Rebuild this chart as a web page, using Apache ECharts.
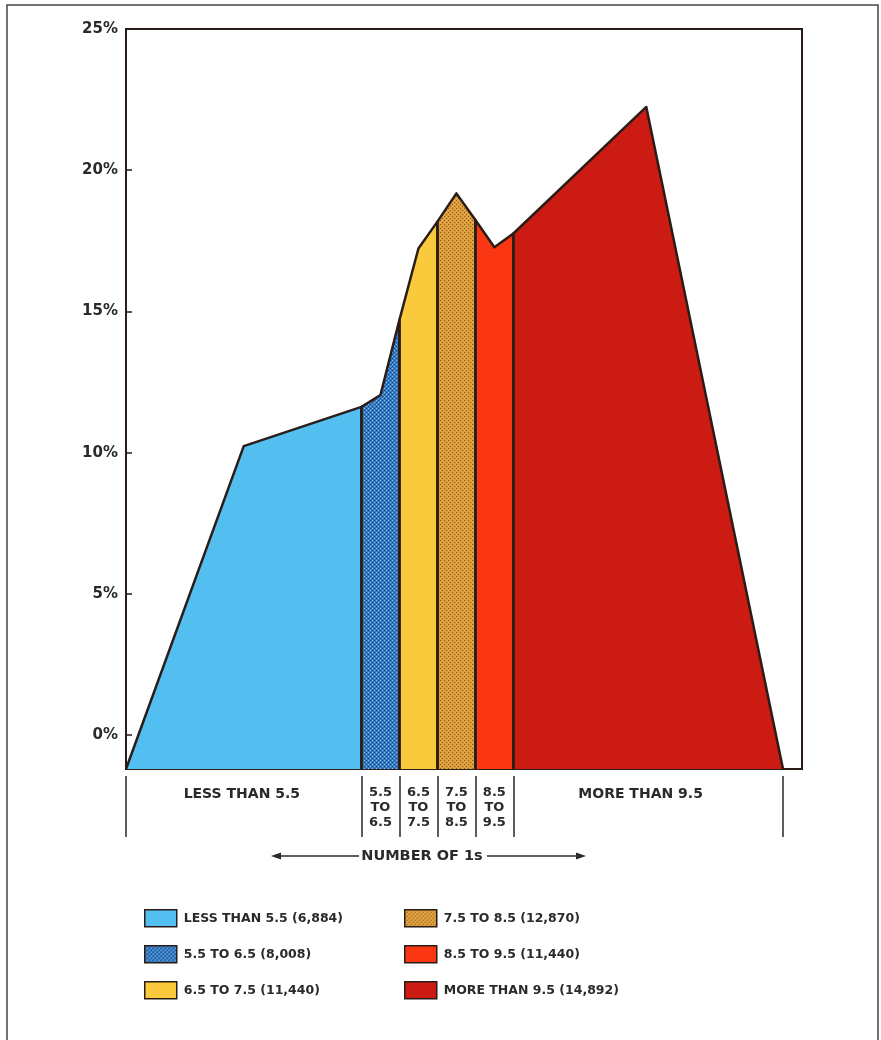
<!DOCTYPE html>
<html>
<head>
<meta charset="utf-8">
<script src="https://cdn.jsdelivr.net/npm/echarts@6/dist/echarts.min.js"></script>
<style>
html,body{margin:0;padding:0;background:#fff;}
#chart{width:881px;height:1040px;}
</style>
</head>
<body>
<div id="chart"></div>
<script>
// ---- data (percent of cases vs. number of 1s) ----
const yMin = -1.2;
const yMax = 25;
const xMin = -0.7;
const xMax = 17.1;
const yTicks = [0, 5, 10, 15, 20, 25];
const bandEdges = [-0.7, 5.5, 6.5, 7.5, 8.5, 9.5, 16.6];
const bandLabelPos = [2.35, 6, 7, 8, 9, 12.85];
const bandLabels = ['LESS THAN 5.5', '5.5\nTO\n6.5', '6.5\nTO\n7.5', '7.5\nTO\n8.5', '8.5\nTO\n9.5', 'MORE THAN 9.5'];
const seriesNames = ['LESS THAN 5.5 (6,884)', '5.5 TO 6.5 (8,008)', '6.5 TO 7.5 (11,440)', '7.5 TO 8.5 (12,870)', '8.5 TO 9.5 (11,440)', 'MORE THAN 9.5 (14,892)'];
const lessThan55 = [[-0.7, -1.2], [2.4, 10.23], [5.5, 11.62]];
const from55to65 = [[5.5, 11.62], [6, 12.04], [6.5, 14.7]];
const from65to75 = [[6.5, 14.7], [7, 17.23], [7.5, 18.18]];
const from75to85 = [[7.5, 18.18], [8, 19.18], [8.5, 18.24]];
const from85to95 = [[8.5, 18.24], [9, 17.27], [9.5, 17.76]];
const moreThan95 = [[9.5, 17.76], [13, 22.24], [16.6, -1.2]];
const bandData = [lessThan55, from55to65, from65to75, from75to85, from85to95, moreThan95];

// ---- styles ----
function dotPattern(base, dotA, dotB) {
  const c = document.createElement('canvas');
  c.width = 4; c.height = 4;
  const g = c.getContext('2d');
  g.fillStyle = base; g.fillRect(0, 0, 4, 4);
  g.fillStyle = dotA; g.fillRect(0, 0, 1, 1); g.fillRect(2, 2, 1, 1);
  g.fillStyle = dotB; g.fillRect(2, 0, 1, 1); g.fillRect(0, 2, 1, 1);
  return { image: c, repeat: 'repeat' };
}
const fills = [
  '#52bff0',
  dotPattern('#3479c0', '#86c0ee', '#1c4a88'),
  '#fbc93c',
  dotPattern('#dc9c38', '#8a5520', '#e9b55a'),
  '#fb3613',
  '#cc1b12'
];
const ink = '#2a1c16';
const txt = '#2a2a2a';
const font = 'DejaVu Sans';

const series = bandData.map((pts, i) => {
  const data = [];
  const first = pts[0], last = pts[pts.length - 1];
  if (first[1] !== yMin) data.push([first[0], yMin]);
  pts.forEach(p => data.push(p));
  if (last[1] !== yMin) data.push([last[0], yMin]);
  return {
    name: seriesNames[i],
    type: 'line',
    xAxisIndex: 0,
    yAxisIndex: 0,
    data: data,
    showSymbol: false,
    symbol: 'none',
    silent: true,
    lineStyle: { color: ink, width: 2.5, join: 'round' },
    itemStyle: { color: ink },
    areaStyle: { color: fills[i], opacity: 1, origin: 'start' },
    z: 2
  };
});

function legendItems(idx) {
  return idx.map(i => ({ name: seriesNames[i], itemStyle: { color: fills[i], borderColor: ink, borderWidth: 1.5 } }));
}
const legendBase = {
  orient: 'vertical',
  top: 909,
  padding: 0,
  icon: 'rect',
  itemWidth: 32,
  itemHeight: 17,
  itemGap: 17.5,
  selectedMode: false,
  textStyle: { fontFamily: font, fontWeight: 'bold', fontSize: 12.5, color: txt, padding: [0, 0, 0, 2], lineHeight: 17 }
};

const chart = echarts.init(document.getElementById('chart'), null, { renderer: 'canvas' });
chart.setOption({
  backgroundColor: '#ffffff',
  animation: false,
  grid: { left: 126, right: 79, top: 29, bottom: 271, show: true, borderColor: ink, borderWidth: 2, backgroundColor: 'transparent' },
  xAxis: [
    {
      type: 'value', min: xMin, max: xMax, position: 'bottom',
      axisLine: { show: true, onZero: false, lineStyle: { color: ink, width: 2 } },
      axisTick: { show: false }, axisLabel: { show: false }, splitLine: { show: false }
    },
    {
      type: 'value', min: xMin, max: xMax, position: 'bottom', offset: 7,
      axisLine: { show: false, onZero: false },
      splitLine: { show: false },
      axisTick: { show: true, customValues: bandEdges, length: 61, lineStyle: { color: txt, width: 1.5 } },
      axisLabel: {
        show: true, customValues: bandLabelPos, margin: 9,
        formatter: function (v) {
          let best = 0, d = Infinity;
          bandLabelPos.forEach((p, i) => { if (Math.abs(p - v) < d) { d = Math.abs(p - v); best = i; } });
          const t = bandLabels[best];
          if (t.indexOf('\n') < 0) return '{s|' + t + '}';
          return t.split('\n').map(s => '{m|' + s + '}').join('\n');
        },
        rich: {
          s: { fontFamily: font, fontWeight: 'bold', fontSize: 14, color: txt, lineHeight: 15, padding: [3, 0, 0, 0] },
          m: { fontFamily: font, fontWeight: 'bold', fontSize: 13, color: txt, lineHeight: 15 }
        }
      }
    }
  ],
  yAxis: {
    type: 'value', min: yMin, max: yMax,
    axisLine: { show: true, onZero: false, lineStyle: { color: ink, width: 2 } },
    axisTick: { show: true, inside: true, length: 6, customValues: yTicks, lineStyle: { color: ink, width: 1.5 } },
    axisLabel: { customValues: yTicks, formatter: '{value}%', margin: 8, fontFamily: font, fontWeight: 'bold', fontSize: 15, color: txt },
    splitLine: { show: false }
  },
  legend: [
    Object.assign({}, legendBase, { left: 144, data: legendItems([0, 1, 2]) }),
    Object.assign({}, legendBase, { left: 404, data: legendItems([3, 4, 5]) })
  ],
  graphic: [
    { type: 'rect', shape: { x: 7, y: 5, width: 871, height: 1060 }, style: { fill: 'none', stroke: '#444', lineWidth: 1.5 }, silent: true },
    { type: 'text', x: 422, y: 856, style: { text: 'NUMBER OF 1s', fontFamily: font, fontWeight: 'bold', fontSize: 14.5, fill: txt, align: 'center', verticalAlign: 'middle' } },
    { type: 'line', shape: { x1: 278, y1: 856, x2: 359, y2: 856 }, style: { stroke: txt, lineWidth: 1.5 } },
    { type: 'polygon', shape: { points: [[271, 856], [281, 852.5], [281, 859.5]] }, style: { fill: txt } },
    { type: 'line', shape: { x1: 487, y1: 856, x2: 578, y2: 856 }, style: { stroke: txt, lineWidth: 1.5 } },
    { type: 'polygon', shape: { points: [[586, 856], [576, 852.5], [576, 859.5]] }, style: { fill: txt } }
  ],
  series: series
});
</script>
</body>
</html>
